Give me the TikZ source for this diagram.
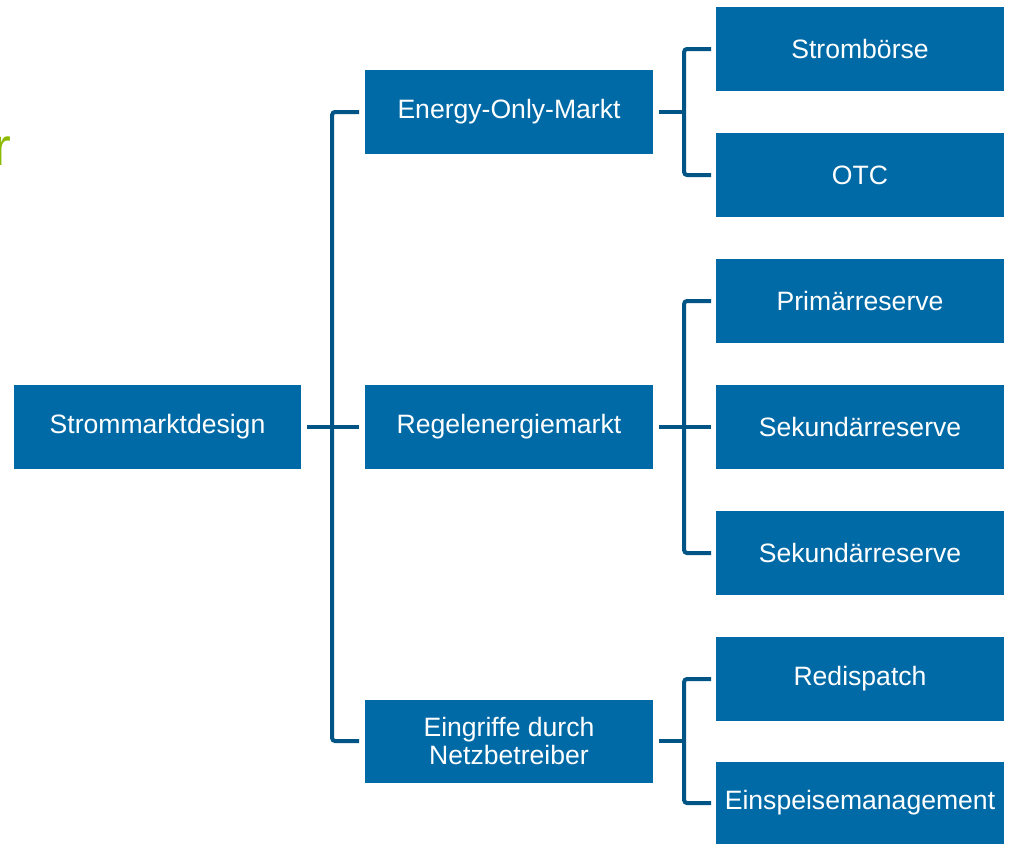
\documentclass[tikz,border=0pt]{standalone}
\usepackage{fontspec}
\setmainfont{Liberation Sans}
\usepackage{tikz}

\definecolor{boxblue}{RGB}{0,106,166}
\definecolor{lineblue}{RGB}{0,84,134}
\definecolor{titlegreen}{RGB}{140,186,0}

\begin{document}
\begin{tikzpicture}[
    x=0.025cm, y=-0.025cm,
    box/.style={fill=boxblue, text=white, minimum width=7.175cm, minimum height=2.075cm,
      inner sep=0pt, align=center, font=\fontsize{18.9}{19.3}\selectfont},
    conn/.style={draw=lineblue, line width=0.1cm, rounded corners=2pt}
  ]
  \useasboundingbox (0,0) rectangle (1013,843);

  % cut-off title letter at the left edge
  \node[anchor=base east, inner sep=0pt, text=titlegreen, font=\fontsize{38}{40}\selectfont] (title) at (12,165) {r};

  % root
  \node[box] (root) at (157.5,427) {Strommarktdesign};

  % level 1
  \node[box] (eom) at (509,112) {Energy-Only-Markt};
  \node[box] (reg) at (509,427) {Regelenergiemarkt};
  \node[box] (ein) at (509,741) {Eingriffe durch\\Netzbetreiber};

  % level 2
  \node[box] (boerse) at (860,49)  {Strombörse};
  \node[box] (otc)    at (860,175) {OTC};
  \node[box] (prim)   at (860,301) {Primärreserve};
  \node[box] (sek1)   at (860,427) {Sekundärreserve};
  \node[box] (sek2)   at (860,553) {Sekundärreserve};
  \node[box] (redi)   at (860,679) {Redispatch};
  \node[box] (einsp)  at (860,803) {Einspeisemanagement};

  % connectors root -> level 1
  \draw[conn] ([xshift=0.15cm]root.east) -- ([xshift=-0.15cm]reg.west);
  \draw[conn] ([xshift=-0.15cm]eom.west) -| ([xshift=-0.825cm]ein.west) -- ([xshift=-0.15cm]ein.west);

  % connectors level 1 -> level 2
  \draw[conn] ([xshift=0.15cm]eom.east) -- ([xshift=0.825cm]eom.east);
  \draw[conn] ([xshift=-0.125cm]boerse.west) -| ([xshift=-0.8cm]otc.west) -- ([xshift=-0.125cm]otc.west);

  \draw[conn] ([xshift=0.15cm]reg.east) -- ([xshift=-0.125cm]sek1.west);
  \draw[conn] ([xshift=-0.125cm]prim.west) -| ([xshift=-0.8cm]sek2.west) -- ([xshift=-0.125cm]sek2.west);

  \draw[conn] ([xshift=0.15cm]ein.east) -- ([xshift=0.825cm]ein.east);
  \draw[conn] ([xshift=-0.125cm]redi.west) -| ([xshift=-0.8cm]einsp.west) -- ([xshift=-0.125cm]einsp.west);
\end{tikzpicture}
\end{document}
